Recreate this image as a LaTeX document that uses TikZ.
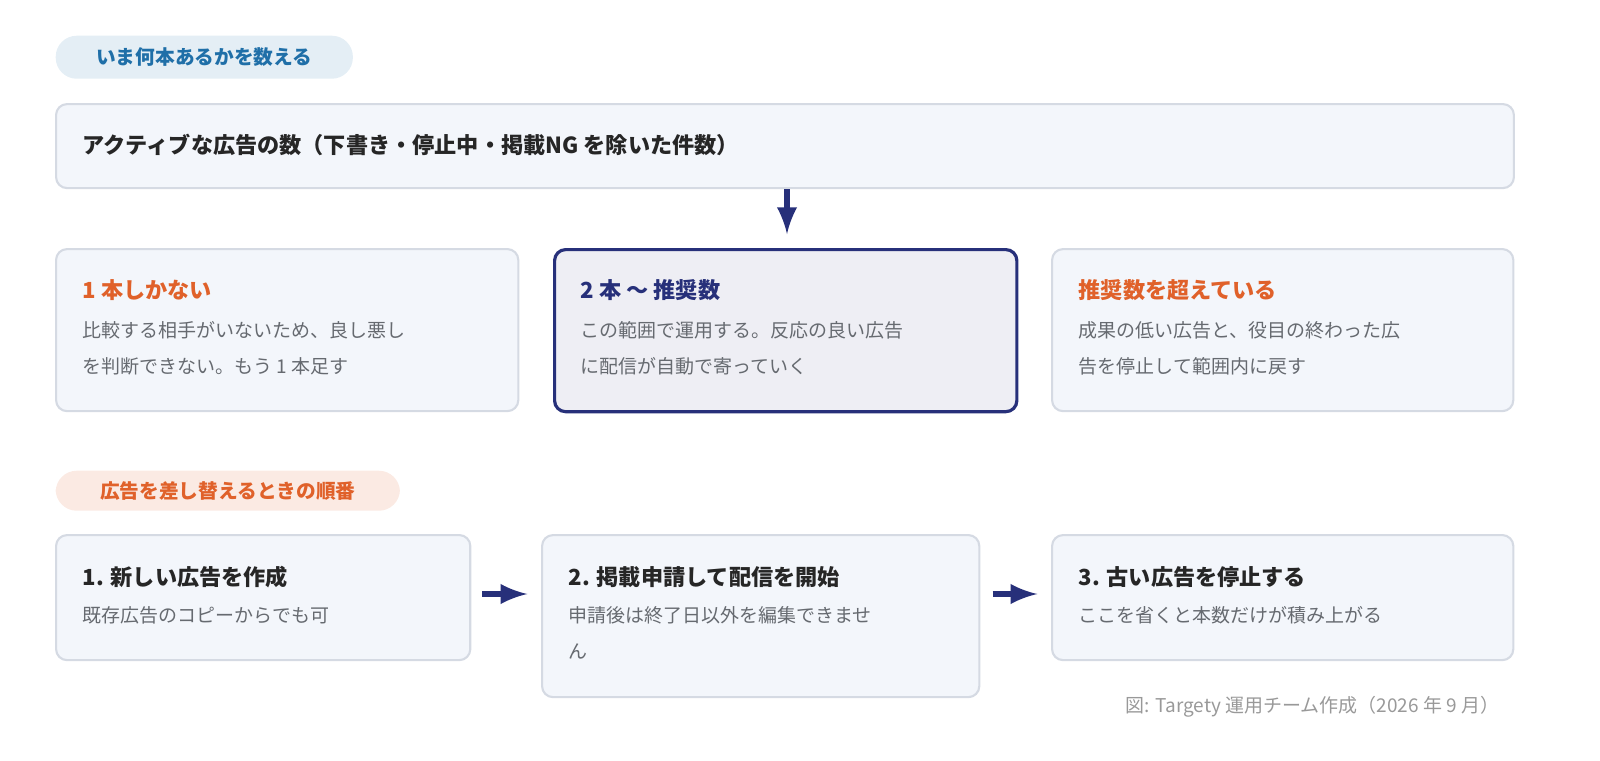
\documentclass[tikz,border=0pt]{standalone}
\usepackage{fontspec}
\setmainfont{Noto Sans CJK JP}
\usetikzlibrary{positioning}
\definecolor{navy}{HTML}{27307A}
\definecolor{boxfill}{HTML}{F3F6FB}
\definecolor{boxline}{HTML}{D5DAE3}
\definecolor{accent}{HTML}{E0612A}
\definecolor{tagblue}{HTML}{1F6FA8}
\definecolor{bodygray}{HTML}{666A70}
\begin{document}
\begin{tikzpicture}[x=0.01cm,y=-0.01cm,
	card/.style={draw=boxline, line width=0.6pt, fill=boxfill, rounded corners=0.11cm, anchor=north west, inner sep=0pt},
	tag/.style={rounded corners=0.21cm, anchor=north west, inner sep=0pt, font=\fontsize{5.6pt}{7pt}\selectfont\bfseries},
	title/.style={anchor=west, inner sep=0pt, font=\fontsize{6.3pt}{8pt}\selectfont\bfseries},
	body/.style={anchor=north west, inner sep=0pt, align=left, text=bodygray, font=\fontsize{5.4pt}{10.2pt}\selectfont},
	arr/.style={-latex, navy, line width=1.6pt}]
	\useasboundingbox (0,0) rectangle (1600,760);
	
	\node[tag, fill=tagblue!12, text=tagblue, minimum width=2.97cm, minimum height=0.43cm] (tagA) at (55,35) {いま何本あるかを数える};
	\node[card, minimum width=14.57cm, minimum height=0.84cm] (top) at (55,103) {};
	\node[title, text=black!85] (topT) at (82,145) {アクティブな広告の数（下書き・停止中・掲載NG を除いた件数）};
	
	\node[card, minimum width=4.62cm, minimum height=1.62cm] (c1) at (55,248) {};
	\node[card, draw=navy, fill=navy!8, line width=0.9pt, minimum width=4.62cm, minimum height=1.62cm] (c2) at (553,248) {};
	\node[card, minimum width=4.61cm, minimum height=1.62cm] (c3) at (1051,248) {};
	\node[title, text=accent] (c1T) at (82,290) {1 本しかない};
	\node[title, text=navy] (c2T) at (580,290) {2 本 〜 推奨数};
	\node[title, text=accent] (c3T) at (1078,290) {推奨数を超えている};
	\node[body] (c1B) at (82,321) {比較する相手がいないため、良し悪し\\を判断できない。もう 1 本足す};
	\node[body] (c2B) at (580,321) {この範囲で運用する。反応の良い広告\\に配信が自動で寄っていく};
	\node[body] (c3B) at (1078,321) {成果の低い広告と、役目の終わった広\\告を停止して範囲内に戻す};
	\draw[arr] (top.south -| 787,0) coordinate (a0) -- ++(0,45) coordinate (a1);
	
	\node[tag, fill=accent!13, text=accent, minimum width=3.44cm, minimum height=0.40cm] (tagB) at (55,470) {広告を差し替えるときの順番};
	\node[card, minimum width=4.14cm, minimum height=1.25cm] (s1) at (55,534) {};
	\node[card, minimum width=4.37cm, minimum height=1.62cm] (s2) at (541,534) {};
	\node[card, minimum width=4.61cm, minimum height=1.25cm] (s3) at (1051,534) {};
	\node[title, text=black!85] (s1T) at (82,577) {1. 新しい広告を作成};
	\node[title, text=black!85] (s2T) at (568,577) {2. 掲載申請して配信を開始};
	\node[title, text=black!85] (s3T) at (1078,577) {3. 古い広告を停止する};
	\node[body] (s1B) at (82,606) {既存広告のコピーからでも可};
	\node[body] (s2B) at (568,606) {申請後は終了日以外を編集できませ\\ん};
	\node[body] (s3B) at (1078,606) {ここを省くと本数だけが積み上がる};
	\draw[arr, shorten <=9pt*0.35, shorten >=11pt*0.35] (s1.east |- 0,594) -- (s2.west |- 0,594);
	\draw[arr, shorten <=10pt*0.35, shorten >=11pt*0.35] (s2.east |- 0,594) -- (s3.west |- 0,594);
	
	\node[anchor=east, inner sep=0pt, text=black!40, font=\fontsize{5.4pt}{7pt}\selectfont] (cap) at (1500,707) {図: Targety 運用チーム作成（2026 年 9 月）};
\end{tikzpicture}
\end{document}
